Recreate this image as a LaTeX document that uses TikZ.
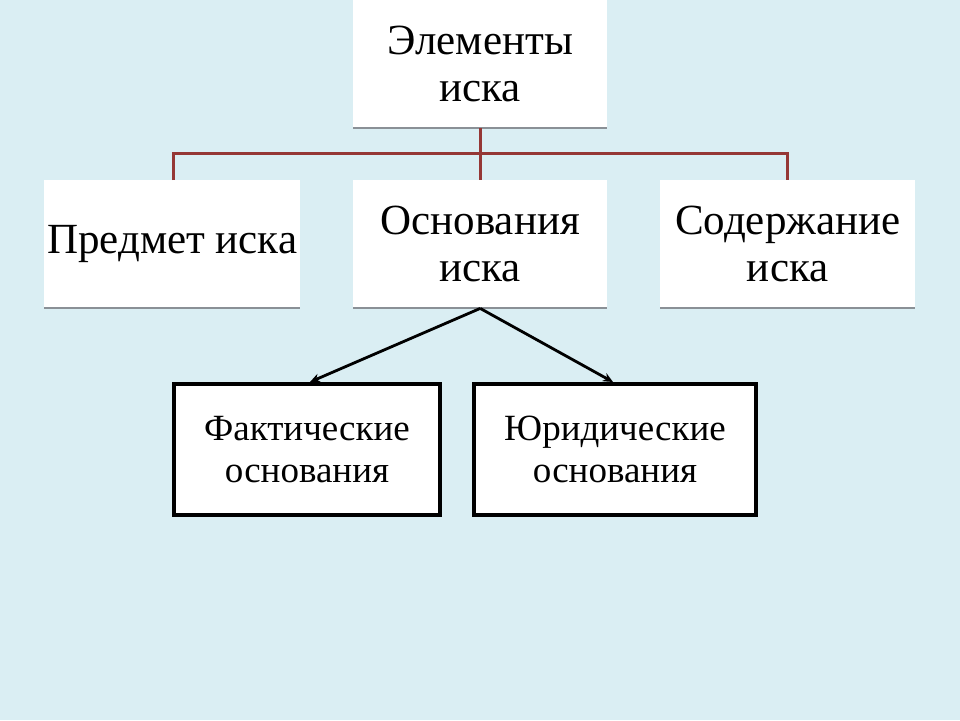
\documentclass[tikz,border=0pt]{standalone}
\usepackage{fontspec}
\setmainfont{Liberation Serif}
\usetikzlibrary{arrows.meta}
\definecolor{bgblue}{HTML}{DAEEF3}
\definecolor{linkred}{HTML}{953735}
\definecolor{shadowgray}{HTML}{8A9096}
\begin{document}
\begin{tikzpicture}[x=1pt,y=-1pt,
  topbox/.style={fill=white, draw=none, minimum width=254pt, minimum height=128pt, inner sep=0pt, align=center, font=\fontsize{43}{47}\selectfont},
  subbox/.style={fill=white, draw=black, line width=3.5pt, inner sep=0pt, align=center, font=\fontsize{37}{42}\selectfont},
  link/.style={draw=linkred, line width=3pt},
  arr/.style={draw=black, line width=2.8pt, -{Stealth[length=10pt,width=9pt]}},
  base/.style={draw=shadowgray, line width=2pt}
]
\fill[bgblue] (0,0) rectangle (960,720);
\useasboundingbox (0,0) rectangle (960,720);
% top
\node[topbox, anchor=north west] (top) at (353,0) {Элементы\\иска};
\node[topbox, anchor=north west, minimum width=256pt] (pred) at (44,180) {Предмет иска};
\node[topbox, anchor=north west] (osn) at (353,180) {Основания\\иска};
\node[topbox, anchor=north west, minimum width=255pt] (sod) at (660,180) {Содержание\\иска};
% gray bottoms
\draw[base] (top.south west) -- (top.south east);
\draw[base] (pred.south west) -- (pred.south east);
\draw[base] (osn.south west) -- (osn.south east);
\draw[base] (sod.south west) -- (sod.south east);
% connectors
\coordinate (hl) at (173,153);
\coordinate (hr) at (787,153);
\draw[link] (top.south) -- (osn.north);
\draw[link] (pred.north -| hl) -- (hl) -- (hr) -- (sod.north -| hr);
% bottom boxes
\node[subbox, minimum width=266pt, minimum height=131pt, anchor=center] (fakt) at (307,449.5) {Фактические\\основания};
\node[subbox, minimum width=282pt, minimum height=131pt, anchor=center] (jur) at (615,449.5) {Юридические\\основания};
\coordinate (fa) at (310,382);
\coordinate (ja) at (613,382);
\draw[arr] (osn.south) -- (fa);
\draw[arr] (osn.south) -- (ja);
\end{tikzpicture}
\end{document}
